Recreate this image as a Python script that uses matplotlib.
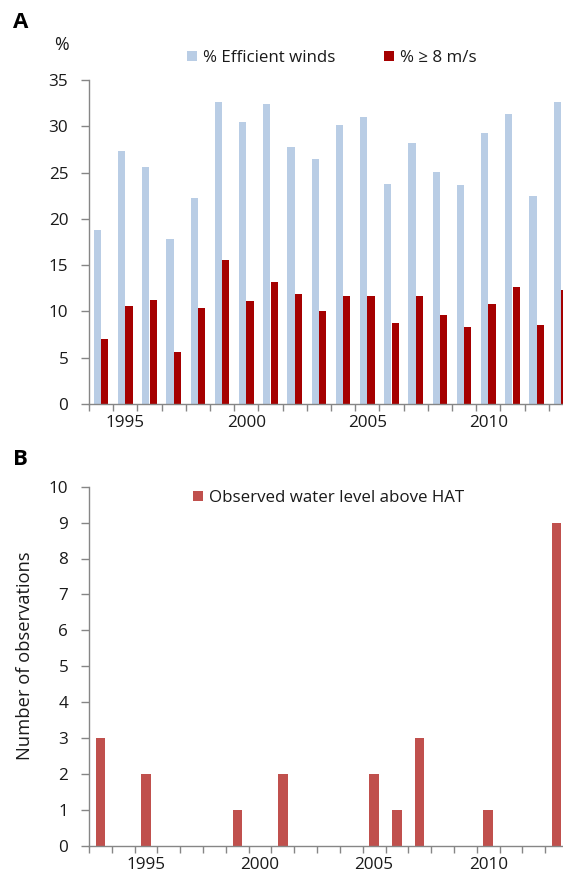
import matplotlib
matplotlib.use("Agg")
import matplotlib.pyplot as plt
import numpy as np

plt.rcParams['font.family'] = ['Open Sans', 'DejaVu Sans']

years_a = list(range(1994, 2014))
efficient = [18.8, 27.35, 25.6, 17.85, 22.25, 32.65, 30.45, 32.4, 27.8, 26.5,
             30.1, 31.0, 23.8, 28.15, 25.1, 23.7, 29.3, 31.3, 22.5, 32.65]
strong = [7.05, 10.6, 11.2, 5.6, 10.35, 15.55, 11.15, 13.2, 11.85, 10.0,
          11.7, 11.7, 8.8, 11.65, 9.6, 8.35, 10.75, 12.6, 8.5, 12.35]

years_b = list(range(1993, 2014))
obs = [3, 0, 2, 0, 0, 0, 1, 0, 2, 0, 0, 0, 2, 1, 3, 0, 0, 1, 0, 0, 9]

label_years = [1995, 2000, 2005, 2010]

c_light = '#b9cde5'
c_dark = '#a50000'
c_b = '#c0504d'
spine_c = '#868686'
txt_c = '#1a1a1a'
fs_tick = 12.3
fs_leg = 12.2

W, H = 563, 872
fig = plt.figure(figsize=(W/100, H/100), dpi=100)

def style(ax, xs):
    for s in ['top', 'right']:
        ax.spines[s].set_visible(False)
    for s in ['left', 'bottom']:
        ax.spines[s].set_color(spine_c)
        ax.spines[s].set_linewidth(1.0)
    ax.set_xticks([x - 0.5 for x in xs] + [xs[-1] + 0.5], minor=True)
    ax.set_xticks(label_years)
    ax.set_xticklabels([str(y) for y in label_years])
    ax.tick_params(axis='x', which='major', length=0, pad=8, labelsize=fs_tick, labelcolor=txt_c)
    ax.tick_params(axis='x', which='minor', length=5, color=spine_c, width=1.0)
    ax.tick_params(axis='y', length=6, color=spine_c, width=1.0, labelsize=fs_tick,
                   labelcolor=txt_c, pad=9)

leg_kw = dict(frameon=False, fontsize=fs_leg, handlelength=0.6, handleheight=0.6,
              handletextpad=0.36, borderpad=0, borderaxespad=0, labelcolor=txt_c)

# Panel A
axA = fig.add_axes([89/W, 1 - 404/H, (573-89)/W, (404-80)/H])
xa = np.array(years_a)
axA.bar(xa - 0.15, efficient, width=0.3, color=c_light, label='% Efficient winds')
axA.bar(xa + 0.15, strong, width=0.3, color=c_dark, label='% \u2265 8 m/s')
axA.set_xlim(1993.5, 2013.5)
axA.set_ylim(0, 35)
axA.set_yticks(range(0, 36, 5))
style(axA, years_a)
hA, lA = axA.get_legend_handles_labels()
fig.legend(hA, lA, loc='center left', bbox_to_anchor=(187/W, 1 - 58/H), ncol=2,
           columnspacing=2.85, **leg_kw)
fig.text(54/W, 1 - 45/H, '%', fontsize=fs_tick + 0.5, color=txt_c, va='center', ha='left')
fig.text(13/W, 1 - 22/H, 'A', fontsize=16, fontweight='bold', color='black', va='center', ha='left')

# Panel B
axB = fig.add_axes([89/W, 1 - 845.7/H, (568-89)/W, (845.7-486.7)/H])
xb = np.array(years_b)
axB.bar(xb, obs, width=0.41, color=c_b, label='Observed water level above HAT')
axB.set_xlim(1992.5, 2013.5)
axB.set_ylim(0, 10)
axB.set_yticks(range(0, 11))
style(axB, years_b)
axB.set_ylabel('Number of observations', fontsize=13.2, color=txt_c)
axB.yaxis.set_label_coords((34 - 89) / 479, (845.7 - 656) / 359)
hB, lB = axB.get_legend_handles_labels()
fig.legend(hB, lB, loc='center left', bbox_to_anchor=(193/W, 1 - 498/H), **leg_kw)
fig.text(13/W, 1 - 459/H, 'B', fontsize=16, fontweight='bold', color='black', va='center', ha='left')

fig.savefig('out.png', dpi=100)
